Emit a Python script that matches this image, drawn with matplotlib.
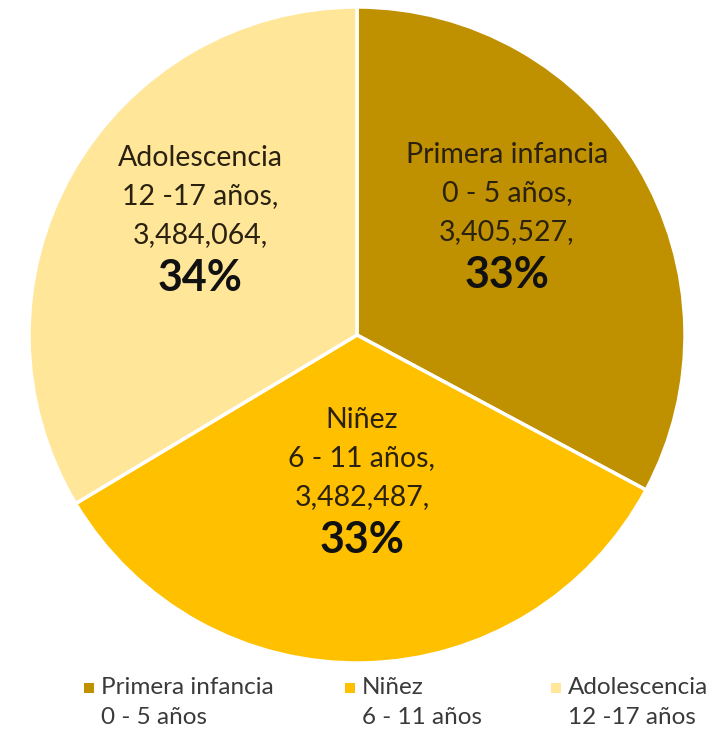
import matplotlib
matplotlib.use("Agg")
import matplotlib.pyplot as plt
from matplotlib.patches import Rectangle

plt.rcParams['font.family'] = ['Lato', 'DejaVu Sans']

categories = ["Primera infancia", "Niñez", "Adolescencia"]
age_ranges = ["0 - 5 años", "6 - 11 años", "12 -17 años"]
values = [3405527, 3482487, 3484064]
pct_labels = ["33%", "33%", "34%"]
colors = ["#BF9000", "#FFC000", "#FFE699"]

W, H = 708, 729
fig = plt.figure(figsize=(W / 100, H / 100), dpi=100)

cx, cy, r = 357, 335, 328
ax = fig.add_axes([(cx - r) / W, (H - cy - r) / H, 2 * r / W, 2 * r / H])
ax.pie(values, colors=colors, startangle=90, counterclock=False, radius=1,
       wedgeprops=dict(edgecolor="white", linewidth=2.5))
ax.set_xlim(-1, 1)
ax.set_ylim(-1, 1)
ax.set_aspect('equal')
ax.axis('off')

# label positions (pixel centers of first line)
label_pos = [(507, 155), (362, 420), (200, 158)]
for i in range(3):
    x, y = label_pos[i]
    lines = [categories[i], age_ranges[i] + ",", f"{values[i]:,},"]
    for k, t in enumerate(lines):
        fig.text(x / W, 1 - (y + 38.5 * k) / H, t, ha='center', va='center',
                 fontsize=20.5, color="#2a2110")
    fig.text(x / W, 1 - (y + 38.5 * 2 + 43) / H, pct_labels[i], ha='center',
             va='center', fontsize=31, fontweight='bold', color="#111111")

# legend
leg_x = [84, 345, 551]
for i in range(3):
    sx = leg_x[i]
    fig.patches.append(Rectangle((sx / W, 1 - 693 / H), 10 / W, 10 / H,
                                 transform=fig.transFigure, facecolor=colors[i],
                                 edgecolor='none'))
    fig.text((sx + 17) / W, 1 - 688 / H, categories[i], ha='left', va='center',
             fontsize=17.5, color="#3a3a3a")
    fig.text((sx + 17) / W, 1 - 717 / H, age_ranges[i], ha='left', va='center',
             fontsize=17.5, color="#3a3a3a")

fig.savefig("out.png", dpi=100, facecolor="white")
